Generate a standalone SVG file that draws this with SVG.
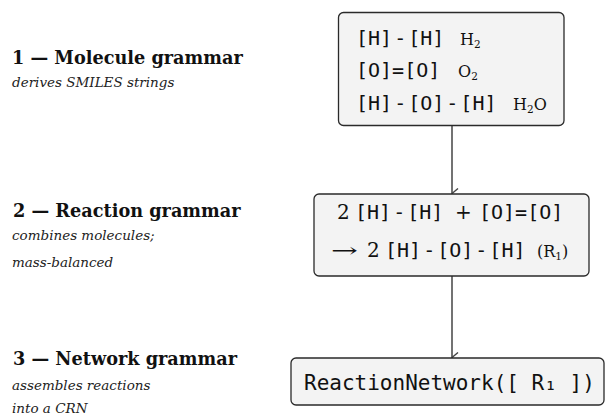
<svg xmlns="http://www.w3.org/2000/svg" width="610" height="416" viewBox="0 0 610 416">
  <style>
    .box { fill: #f3f3f3; stroke: #2a2a2a; stroke-width: 1.3; }
    .wire { fill: none; stroke: #444; stroke-width: 1.5; }
    .head { fill: none; stroke: #444; stroke-width: 1.4; stroke-linejoin: miter; }
    .title { font-family: "DejaVu Serif", serif; font-weight: bold; font-size: 17.7px; fill: #111; }
    .note { font-family: "DejaVu Serif", serif; font-style: italic; font-size: 13.5px; fill: #222; }
    .mono { font-family: "DejaVu Sans Mono", monospace; font-size: 20px; fill: #111; }
    .mono-l { font-family: "DejaVu Sans Mono", monospace; font-size: 21px; fill: #111; }
    .ser { font-family: "DejaVu Serif", serif; font-size: 16px; fill: #111; }
    .ser-l { font-family: "DejaVu Serif", serif; font-size: 20px; fill: #111; }
    .sub { font-size: 10.5px; }
  </style>
  <defs>
    <marker id="chev" viewBox="0 0 12 8" refX="6" refY="7" markerWidth="12" markerHeight="8" markerUnits="userSpaceOnUse" orient="auto-start-reverse">
      <path d="M 1 1 L 6 7 L 11 1" class="head"/>
    </marker>
  </defs>

  <!-- stage captions -->
  <g id="caption-1">
    <text class="title" x="12" y="64">1 — Molecule grammar</text>
    <text class="note" x="12" y="87">derives SMILES strings</text>
  </g>
  <g id="caption-2">
    <text class="title" x="13" y="217">2 — Reaction grammar</text>
    <text class="note" x="12" y="240">combines molecules;</text>
    <text class="note" x="12" y="267">mass-balanced</text>
  </g>
  <g id="caption-3">
    <text class="title" x="13" y="365">3 — Network grammar</text>
    <text class="note" x="12" y="390">assembles reactions</text>
    <text class="note" x="12" y="413">into a CRN</text>
  </g>

  <!-- connectors -->
  <g id="connectors">
    <line class="wire" x1="452" y1="126" x2="452" y2="193.5" marker-end="url(#chev)"/>
    <line class="wire" x1="452" y1="276" x2="452" y2="357.5" marker-end="url(#chev)"/>
  </g>

  <!-- molecules -->
  <g id="molecules">
    <rect class="box" x="338.5" y="12.5" width="225.5" height="113" rx="5"/>
    <text class="mono" x="356" y="45">[H]<tspan dx="2">-</tspan><tspan dx="2">[H]</tspan></text>
    <text class="ser" x="460" y="45">H<tspan class="sub" dy="3">2</tspan></text>
    <text class="mono" x="356" y="77">[O]=[O]</text>
    <text class="ser" x="458" y="77">O<tspan class="sub" dy="3">2</tspan></text>
    <text class="mono" x="356" y="110">[H]<tspan dx="2">-</tspan><tspan dx="2">[O]</tspan><tspan dx="2">-</tspan><tspan dx="2">[H]</tspan></text>
    <text class="ser" x="513" y="110">H<tspan class="sub" dy="3">2</tspan><tspan dy="-3">O</tspan></text>
  </g>

  <!-- reaction -->
  <g id="reaction">
    <rect class="box" x="314" y="194" width="275" height="82" rx="5"/>
    <text class="ser-l" x="337" y="219">2</text>
    <text class="mono" x="355" y="219">[H]<tspan dx="2">-</tspan><tspan dx="2">[H]</tspan></text>
    <text class="ser-l" x="455" y="219">+</text>
    <text class="mono" x="479" y="219">[O]=[O]</text>
    <text class="ser-l" x="331" y="257" textLength="27" lengthAdjust="spacingAndGlyphs">→</text>
    <text class="ser-l" x="367" y="257">2</text>
    <text class="mono" x="385" y="257">[H]<tspan dx="2">-</tspan><tspan dx="2">[O]</tspan><tspan dx="2">-</tspan><tspan dx="2">[H]</tspan></text>
    <text class="ser" x="537" y="257">(R<tspan class="sub" dy="3">1</tspan><tspan dy="-3">)</tspan></text>
  </g>

  <!-- network -->
  <g id="network">
    <rect class="box" x="291" y="358" width="313" height="47" rx="5"/>
    <text class="mono-l" x="304" y="390">ReactionNetwork([ R₁ ])</text>
  </g>
</svg>
